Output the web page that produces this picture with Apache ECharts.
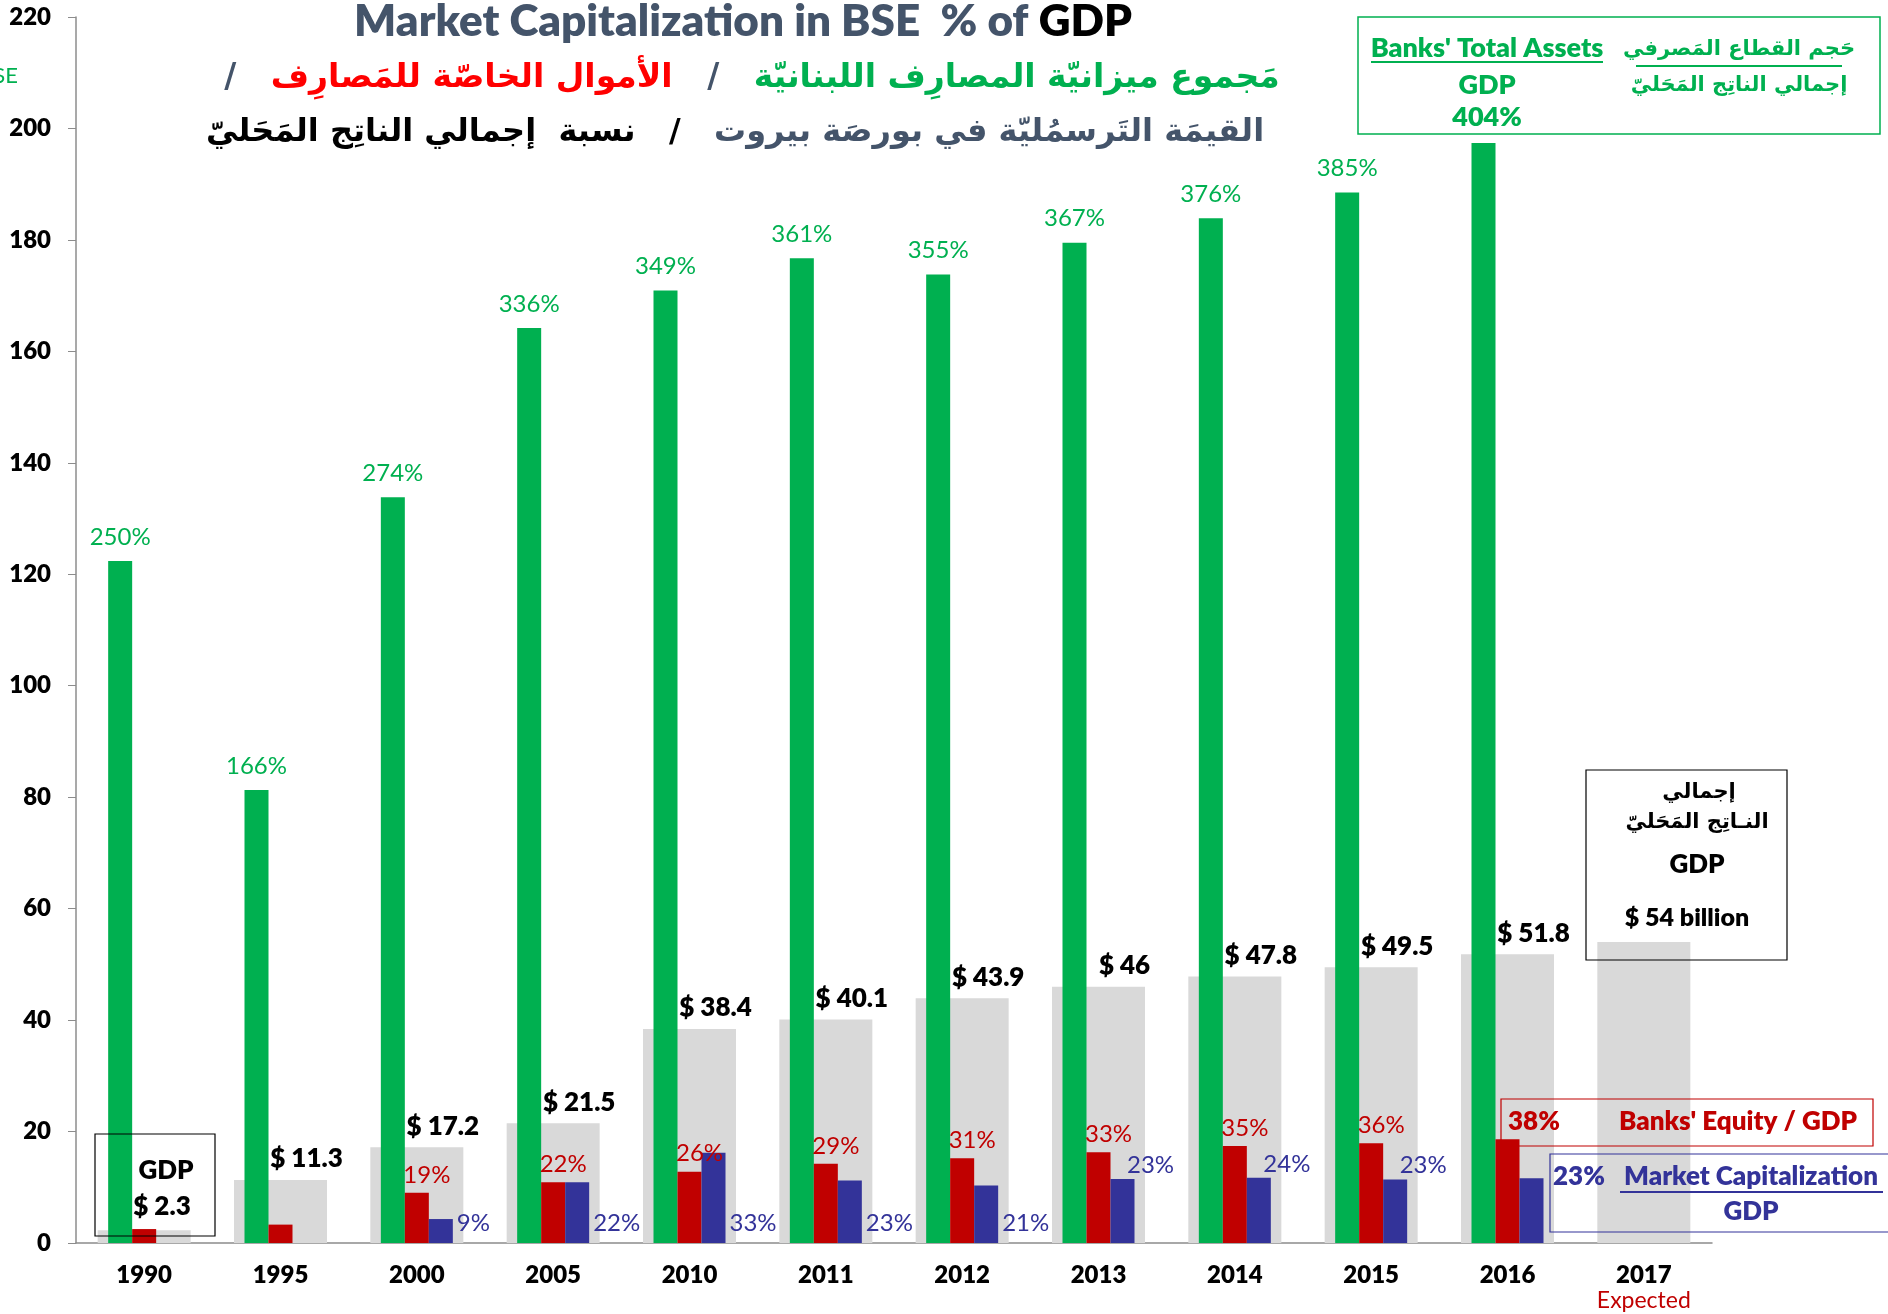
<!DOCTYPE html>
<html>
<head>
<meta charset="utf-8">
<title>Lebanese banks / GDP</title>
<script src="https://cdn.jsdelivr.net/npm/echarts@6/dist/echarts.min.js"></script>
<style>
html, body { margin: 0; padding: 0; background: #fff; }
#main { width: 1888px; height: 1314px; }
</style>
</head>
<body>
<div id="main"></div>
<script>
var years = ['1990', '1995', '2000', '2005', '2010', '2011', '2012', '2013', '2014', '2015', '2016', '2017'];
var gdp = [2.3, 11.3, 17.2, 21.5, 38.4, 40.1, 43.9, 46, 47.8, 49.5, 51.8, 54];
var totalAssets = [122.4, 81.3, 133.8, 164.2, 170.9, 176.7, 173.8, 179.5, 183.9, 188.5, 197.4, null];
var equity = [2.5, 3.3, 9.0, 10.9, 12.8, 14.2, 15.2, 16.3, 17.4, 17.9, 18.6, null];
var marketCap = [null, null, 4.3, 10.9, 16.2, 11.2, 10.3, 11.5, 11.7, 11.4, 11.6, null];
var assetsPct = [250, 166, 274, 336, 349, 361, 355, 367, 376, 385, 404, null];
var equityPct = [null, null, 19, 22, 26, 29, 31, 33, 35, 36, 38, null];
var marketCapPct = [null, null, 9, 22, 33, 23, 21, 23, 24, 23, 23, null];

var LATIN = "Lato, 'Open Sans', sans-serif";
var AR = "'DejaVu Sans', sans-serif";
var HEAVY = 800;
var GREEN = '#00B050', RED = '#C00000', BLUE = '#333399', GRAY = '#D9D9D9', SLATE = '#44546A';

var chartDom = document.getElementById('main');
var myChart = echarts.init(chartDom);
var option;

// blue labels: most sit low next to the bar, the last ones were moved up
var marketCapData = marketCap.map(function (v, i) {
    if (i >= 7 && i <= 9) {
        return { value: v, label: { position: 'top', distance: 2, offset: [28, 0], align: 'center', verticalAlign: 'bottom' } };
    }
    return v;
});

function txt(x, y, text, font, size, color, extra) {
    var style = {
        x: x, y: y, text: text,
        fontFamily: font, fontSize: size, fontWeight: font === LATIN ? HEAVY : 'bold',
        fill: color, align: 'center', verticalAlign: 'middle'
    };
    for (var k in extra) style[k] = extra[k];
    return { type: 'text', z: 100, style: style };
}
function box(x, y, w, h, color, lw) {
    return { type: 'rect', z: 99, shape: { x: x, y: y, width: w, height: h }, style: { fill: null, stroke: color, lineWidth: lw } };
}
function uline(x1, x2, y, color) {
    return { type: 'line', z: 100, shape: { x1: x1, y1: y, x2: x2, y2: y }, style: { stroke: color, lineWidth: 2 } };
}

option = {
    animation: false,
    backgroundColor: '#fff',
    grid: { left: 76, right: 176, top: 17, bottom: 71 },
    xAxis: [
        {
            type: 'category',
            data: years,
            axisLine: { lineStyle: { color: '#8c8c8c', width: 1.5 } },
            axisTick: { alignWithLabel: true, length: 7, lineStyle: { color: '#8c8c8c' } },
            axisLabel: {
                interval: 0, margin: 20, fontFamily: LATIN, fontWeight: HEAVY, fontSize: 24, color: '#000', lineHeight: 25,
                formatter: function (v) { return v === '2017' ? v + '\n{exp|Expected}' : v; },
                rich: { exp: { color: RED, fontFamily: LATIN, fontWeight: 'normal', fontSize: 23, lineHeight: 25 } }
            }
        },
        { type: 'category', data: years, show: false }
    ],
    yAxis: {
        type: 'value', min: 0, max: 220, interval: 20,
        axisLine: { show: true, lineStyle: { color: '#8c8c8c', width: 1.5 } },
        axisTick: { show: true, length: 8, lineStyle: { color: '#8c8c8c' } },
        splitLine: { show: false },
        axisLabel: { margin: 25, fontFamily: LATIN, fontWeight: HEAVY, fontSize: 24, color: '#000' }
    },
    series: [
        {
            name: 'GDP', type: 'bar', xAxisIndex: 1, barWidth: 93, data: gdp,
            itemStyle: { color: GRAY },
            label: {
                show: true, position: 'top', distance: 8, offset: [26, 0],
                fontFamily: LATIN, fontWeight: HEAVY, fontSize: 26, color: '#000',
                formatter: function (p) { return (p.dataIndex === 0 || p.dataIndex === 11) ? '' : '$ ' + p.value; }
            }
        },
        {
            name: 'Total Assets', type: 'bar', barWidth: 24, barGap: '0%', data: totalAssets,
            itemStyle: { color: GREEN },
            label: {
                show: true, position: 'top', distance: 12,
                fontFamily: LATIN, fontSize: 24, color: GREEN,
                formatter: function (p) { return p.dataIndex < 10 ? assetsPct[p.dataIndex] + '%' : ''; }
            }
        },
        {
            name: 'Equity', type: 'bar', barWidth: 24, barGap: '0%', data: equity,
            itemStyle: { color: RED },
            label: {
                show: true, position: 'top', distance: 6, offset: [10, 0],
                fontFamily: LATIN, fontSize: 24, color: RED,
                formatter: function (p) { var i = p.dataIndex; return (i >= 2 && i <= 9) ? equityPct[i] + '%' : ''; }
            }
        },
        {
            name: 'Market Cap', type: 'bar', barWidth: 24, barGap: '0%', data: marketCapData,
            itemStyle: { color: BLUE },
            label: {
                show: true, position: ['100%', '100%'], align: 'left', verticalAlign: 'bottom', offset: [4, -8],
                fontFamily: LATIN, fontSize: 24, color: BLUE,
                formatter: function (p) { var i = p.dataIndex; return (i >= 2 && i <= 9) ? marketCapPct[i] + '%' : ''; }
            }
        }
    ],
    graphic: [
        // clipped legend text at the far left
        txt(18, 76, 'BSE', LATIN, 22, GREEN, { align: 'right', fontWeight: 'normal' }),
        // titles
        txt(743, 22, '{t|Market Capitalization in BSE  % of }{g|GDP}', LATIN, 44, SLATE, {
            rich: {
                t: { fontFamily: LATIN, fontSize: 44, fontWeight: HEAVY, fill: SLATE },
                g: { fontFamily: LATIN, fontSize: 44, fontWeight: HEAVY, fill: '#000' }
            }
        }),
        txt(752, 78, '{s|/   }{r|الأموال الخاصّة للمَصارِف}{s|   /   }{g|مَجموع ميزانيّة المصارِف اللبنانيّة}', AR, 33, SLATE, {
            rich: {
                s: { fontFamily: AR, fontSize: 33, fontWeight: 'bold', fill: SLATE },
                r: { fontFamily: AR, fontSize: 33, fontWeight: 'bold', fill: '#FF0000' },
                g: { fontFamily: AR, fontSize: 33, fontWeight: 'bold', fill: GREEN }
            }
        }),
        txt(735, 133, '{k|نسبة  إجمالي الناتِج المَحَليّ}{k|   /   }{s|القيمَة التَرسمُليّة في بورصَة بيروت}', AR, 32, SLATE, {
            rich: {
                s: { fontFamily: AR, fontSize: 32, fontWeight: 'bold', fill: SLATE },
                k: { fontFamily: AR, fontSize: 32, fontWeight: 'bold', fill: '#000' }
            }
        }),
        // total assets box
        box(1358, 17, 522, 117, GREEN, 1.5),
        txt(1487, 48, "Banks' Total Assets", LATIN, 27, GREEN),
        uline(1371, 1603, 62, GREEN),
        txt(1487, 85, 'GDP', LATIN, 27, GREEN),
        txt(1487, 117, assetsPct[10] + '%', LATIN, 27, GREEN),
        txt(1739, 50, 'حَجم القطاع المَصرفي', AR, 21, GREEN),
        uline(1636, 1842, 66, GREEN),
        txt(1739, 86, 'إجمالي الناتِج المَحَليّ', AR, 21, GREEN),
        // 1990 GDP box
        box(95, 1134, 120, 102, '#000', 1.2),
        txt(166, 1171, 'GDP', LATIN, 26, '#000'),
        txt(162, 1207, '$ ' + gdp[0], LATIN, 26, '#000'),
        // 2017 GDP box
        box(1586, 770, 201, 190, '#000', 1.2),
        txt(1699, 793, 'إجمالي', AR, 21, '#000'),
        txt(1697, 823, 'النـاتِج المَحَليّ', AR, 21, '#000'),
        txt(1697, 865, 'GDP', LATIN, 26, '#000'),
        txt(1687, 918, '$ ' + gdp[11] + ' billion', LATIN, 25, '#000'),
        // equity box
        box(1501, 1099, 372, 47, RED, 1.2),
        txt(1508, 1122, equityPct[10] + '%', LATIN, 26, RED, { align: 'left' }),
        txt(1738, 1122, "Banks' Equity / GDP", LATIN, 26, RED),
        // market cap box
        box(1550, 1154, 400, 78, BLUE, 1.2),
        txt(1553, 1177, marketCapPct[10] + '%', LATIN, 26, BLUE, { align: 'left' }),
        txt(1751, 1177, 'Market Capitalization', LATIN, 26, BLUE),
        uline(1620, 1883, 1192, BLUE),
        txt(1751, 1212, 'GDP', LATIN, 26, BLUE)
    ]
};

option && myChart.setOption(option);
</script>
</body>
</html>
